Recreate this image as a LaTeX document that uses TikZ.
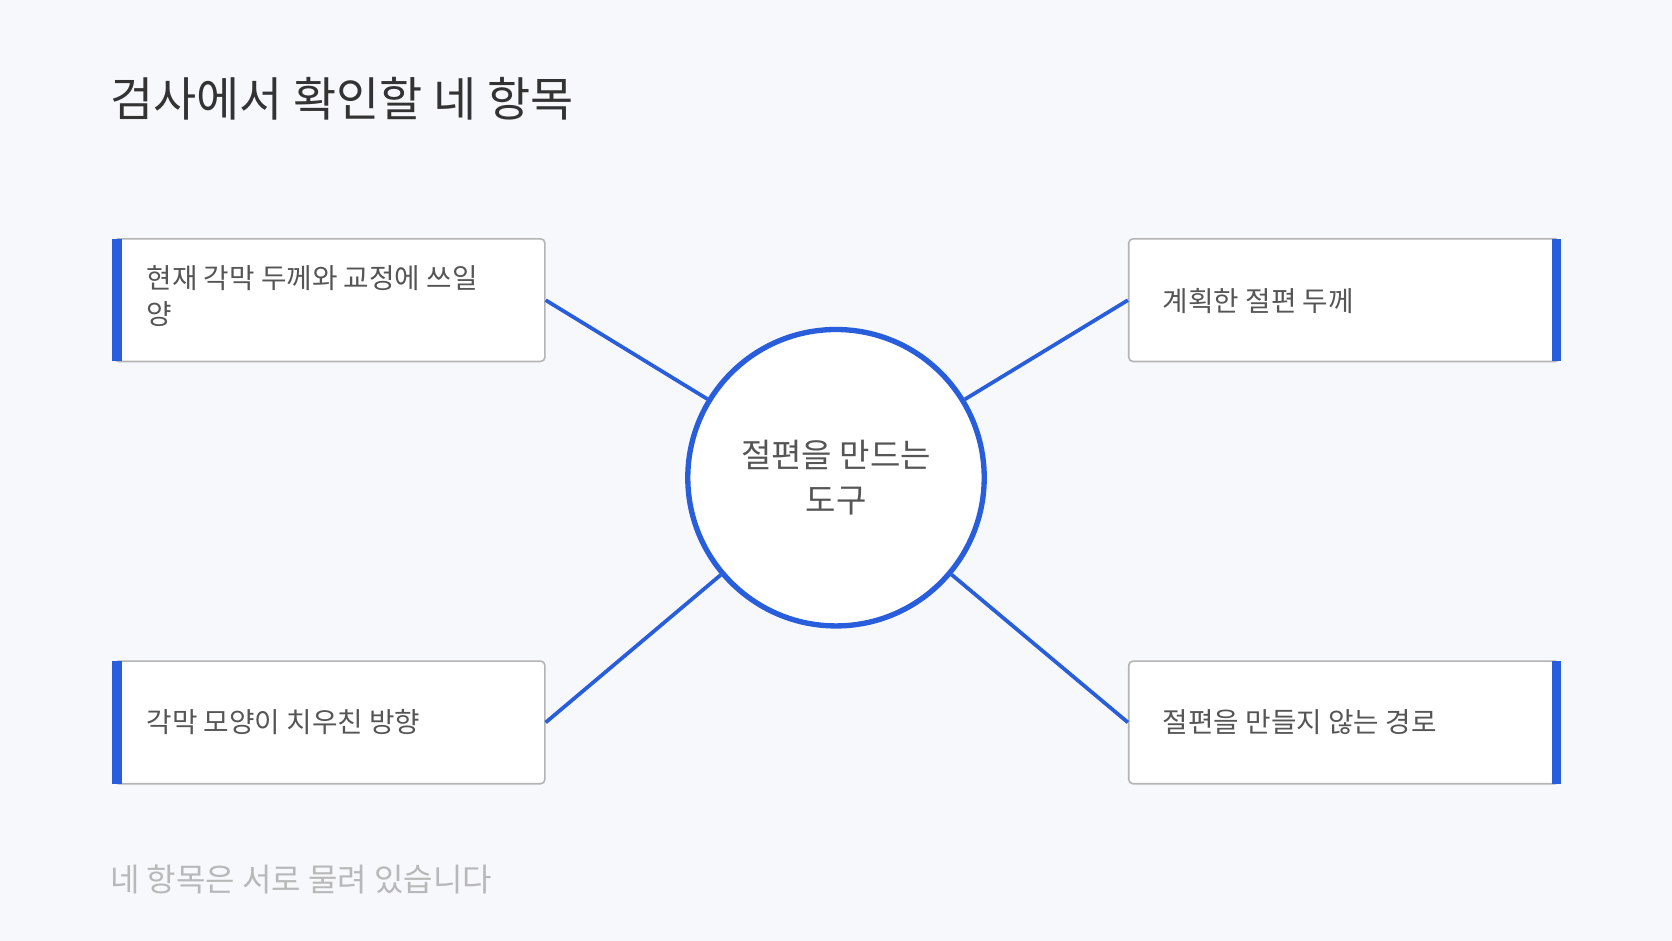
\documentclass[tikz,border=0pt]{standalone}
\usepackage{fontspec}
\setmainfont{Noto Sans CJK KR}
\usetikzlibrary{positioning}
\definecolor{bgc}{RGB}{246,248,251}
\definecolor{bluec}{RGB}{40,94,220}
\definecolor{boxline}{RGB}{180,180,180}
\definecolor{txtc}{RGB}{85,85,85}
\tikzset{
  item/.style={draw=boxline, line width=1.5pt, fill=white, rounded corners=4pt,
    minimum width=404pt, minimum height=115pt, inner sep=0pt},
  itemtext/.style={anchor=west, text=txtc, font=\fontsize{26}{34}\selectfont, align=left},
  link/.style={draw=bluec, line width=3.5pt},
}
\begin{document}
\begin{tikzpicture}[x=1pt,y=1pt,yscale=-1]
  \fill[bgc] (0,0) rectangle (1568,882);
  \useasboundingbox (0,0) rectangle (1568,882);

  % title
  \node (title) [anchor=west, text=black!80, font=\fontsize{44}{50}\selectfont] at (100,93) {검사에서 확인할 네 항목};

  % boxes
  \node (lt) [item] at (309,281.5) {};
  \node (rt) [item] at (1260.5,281.5) {};
  \node (lb) [item] at (309,677.5) {};
  \node (rb) [item] at (1260.5,677.5) {};
  \fill[bluec] (105,224) rectangle (114,339);
  \fill[bluec] (105,620) rectangle (114,735);
  \fill[bluec] (1455,224) rectangle (1464,339);
  \fill[bluec] (1455,620) rectangle (1464,735);

  \node [itemtext] at (134,278) {현재 각막 두께와 교정에 쓰일\\양};
  \node [itemtext] at (1087,282) {계획한 절편 두께};
  \node [itemtext] at (134,677) {각막 모양이 치우친 방향};
  \node [itemtext] at (1087,677) {절편을 만들지 않는 경로};

  % centre
  \node (hub) [circle, draw=bluec, line width=5pt, fill=white, minimum size=278pt,
    text=txtc, align=center, font=\fontsize{31}{42}\selectfont] at (784,448) {절편을 만드는\\도구};

  \draw[link] (lt.east) -- (hub);
  \draw[link] (rt.west) -- (hub);
  \draw[link] (lb.east) -- (hub);
  \draw[link] (rb.west) -- (hub);

  % footer
  \node (note) [anchor=west, text=black!28, font=\fontsize{30}{34}\selectfont] at (100,825) {네 항목은 서로 물려 있습니다};
\end{tikzpicture}
\end{document}
